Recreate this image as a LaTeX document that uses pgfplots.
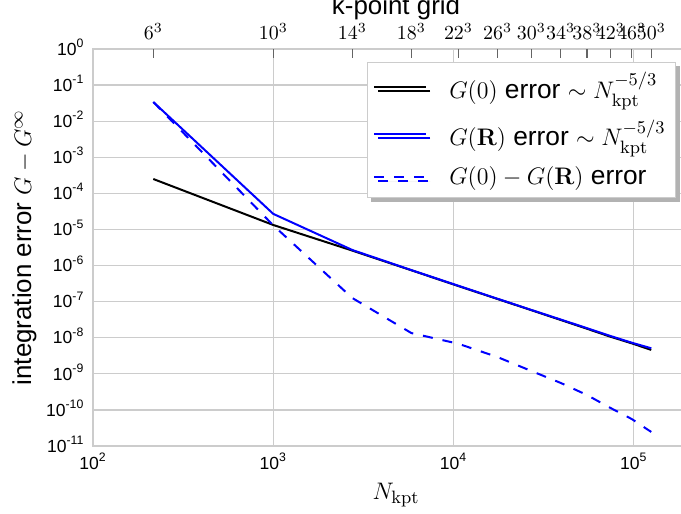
\documentclass[border=0pt]{standalone}
\usepackage[no-math]{fontspec}
\setmainfont{Liberation Sans}
\usepackage{pgfplots}
\pgfplotsset{compat=1.18}
\usetikzlibrary{shadows}

\definecolor{gridgray}{RGB}{204,204,204}
\definecolor{tickgray}{RGB}{100,100,100}
\definecolor{lineblue}{RGB}{0,0,255}

% sans tick label 10^k as in the original
\newcommand{\tl}[1]{10\textsuperscript{#1}}

\begin{document}
\begin{tikzpicture}
\begin{axis}[
  scale only axis, width=303bp, height=198.5bp,
  xmode=log, ymode=log,
  xmin=100, xmax=2.3e5, ymin=1e-11, ymax=1,
  axis line style={gridgray, line width=1.3bp},
  grid=major, grid style={gridgray, line width=0.65bp},
  major tick length=0pt, xminorticks=false, yminorticks=false,
  xtick={1e2,1e3,1e4,1e5},
  xticklabels={\tl{2},\tl{3},\tl{4},\tl{5}},
  ytick={1,1e-1,1e-2,1e-3,1e-4,1e-5,1e-6,1e-7,1e-8,1e-9,1e-10,1e-11},
  yticklabels={\tl{0},\tl{-1},\tl{-2},\tl{-3},\tl{-4},\tl{-5},\tl{-6},
               \tl{-7},\tl{-8},\tl{-9},\tl{-10},\tl{-11}},
  tick label style={font=\fontsize{8.8}{10}\selectfont},
  yticklabel style={anchor=base east, yshift=-3.1bp, xshift=-0.8bp},
  xlabel={$N_{\mathrm{kpt}}$},
  xlabel style={font=\fontsize{13}{15}\selectfont,
                at={(axis description cs:0.5,-0.1335)}, anchor=base},
  ylabel={integration error $G-G^\infty$},
  ylabel style={font=\fontsize{13}{15}\selectfont,
                at={(axis description cs:-0.113,0.5)}, anchor=center},
  legend style={at={(axis description cs:0.962,0.967)}, anchor=north east,
    draw=gridgray, fill=white, font=\fontsize{13.2}{15}\selectfont,
    row sep=5bp, column sep=9bp, inner ysep=3bp, inner xsep=3bp,
    drop shadow={shadow xshift=2bp, shadow yshift=-2bp, fill=black!30, opacity=1}},
  legend cell align=left,
  legend image code/.code={\draw[#1] (0bp,0bp) -- (26bp,0bp);},
]
\addplot[black, line width=1bp] coordinates {
  (216,2.5e-4) (1000,1.33e-5) (2744,2.6e-6) (5832,7.4e-7) (10648,2.7e-7)
  (17576,1.18e-7) (27000,5.8e-8) (39304,3.1e-8) (54872,1.78e-8)
  (74088,1.07e-8) (97336,7.0e-9) (125000,4.6e-9)};
\addlegendentry{$G(0)$ error $\sim N_{\mathrm{kpt}}^{-5/3}$}
\addplot[lineblue, line width=1bp] coordinates {
  (216,3.4e-2) (1000,2.7e-5) (2744,2.7e-6) (5832,7.5e-7) (10648,2.75e-7)
  (17576,1.2e-7) (27000,5.9e-8) (39304,3.2e-8) (54872,1.85e-8)
  (74088,1.12e-8) (97336,7.3e-9) (125000,5.1e-9)};
\addlegendentry{$G(\mathbf{R})$ error $\sim N_{\mathrm{kpt}}^{-5/3}$}
\addplot[lineblue, line width=1bp, dash pattern=on 5bp off 5bp] coordinates {
  (216,3.4e-2) (1000,1.3e-5) (2744,1.26e-7) (5832,1.35e-8) (10648,6.8e-9)
  (17576,2.9e-9) (27000,1.2e-9) (39304,5.6e-10) (54872,2.6e-10)
  (74088,1.14e-10) (97336,5.6e-11) (125000,2.45e-11)};
\addlegendentry{$G(0)-G(\mathbf{R})$ error}
\end{axis}
\begin{axis}[
  scale only axis, width=303bp, height=198.5bp,
  xmode=log, xmin=100, xmax=2.3e5, ymin=0, ymax=1,
  axis x line*=top, axis y line=none,
  axis line style={draw=none},
  xminorticks=false,
  xtick={216,1000,2744,5832,10648,17576,27000,39304,54872,74088,97336,125000},
  xticklabels={$6^3$,$10^3$,$14^3$,$18^3$,$22^3$,$26^3$,$30^3$,$34^3$,
               $38^3$,$42^3$,$46^3$,$50^3$},
  tick align=inside, major tick length=4.5bp,
  tick style={tickgray, line width=0.7bp},
  xticklabel style={font=\fontsize{9.8}{11}\selectfont},
  xticklabel shift=1bp,
  xlabel={k-point grid},
  xlabel style={font=\fontsize{13}{15}\selectfont,
                at={(axis description cs:0.5,1.087)}, anchor=base},
]
\addplot[draw=none] coordinates {(1000,0.5)};
\end{axis}
\pgfresetboundingbox
\useasboundingbox (-46.5bp,-34bp) rectangle (294bp,223bp);
\end{tikzpicture}
\end{document}
